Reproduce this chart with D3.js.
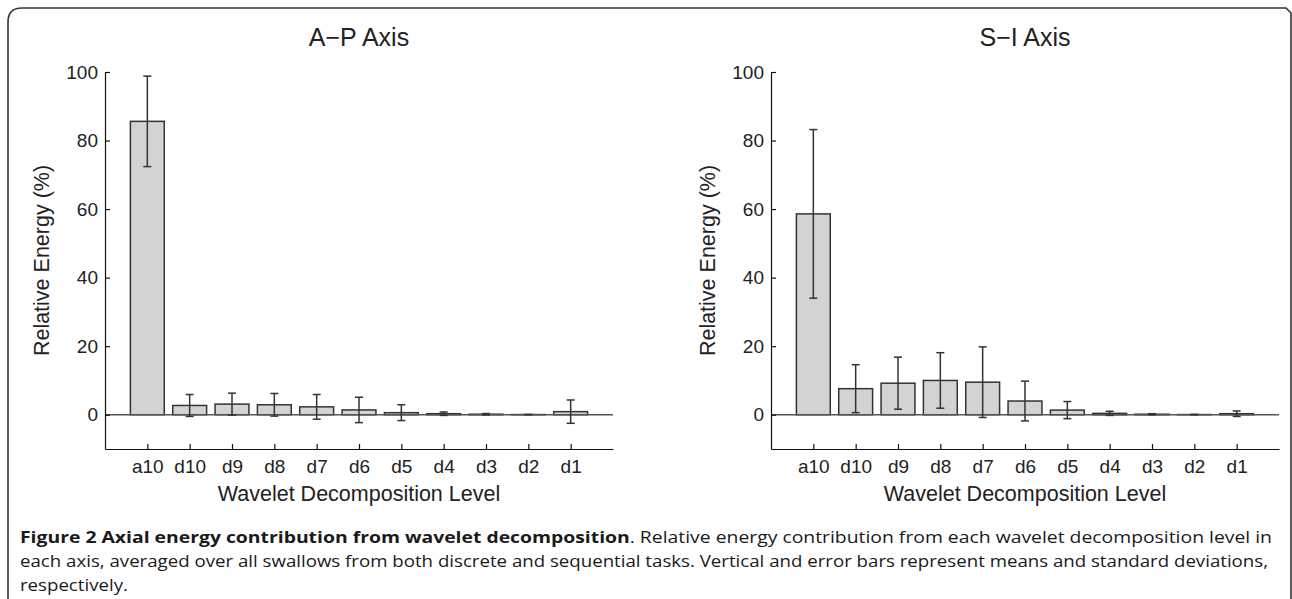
<!DOCTYPE html>
<html>
<head>
<meta charset="utf-8">
<script src="https://cdn.jsdelivr.net/npm/d3@7/dist/d3.min.js"></script>
<style>
  html, body { margin: 0; padding: 0; background: #fff; }
  svg { display: block; }
</style>
</head>
<body>
<svg id="chart" width="1292" height="599"></svg>
<script>
// ---- data ----
const categories = ["a10", "d10", "d9", "d8", "d7", "d6", "d5", "d4", "d3", "d2", "d1"];
const apMeans = [85.6, 2.7, 3.1, 2.9, 2.3, 1.4, 0.6, 0.3, 0.15, 0.05, 0.9];
const apSD    = [13.2, 3.2, 3.2, 3.3, 3.6, 3.7, 2.3, 0.5, 0.2, 0.05, 3.4];
const siMeans = [58.6, 7.6, 9.2, 10.0, 9.5, 4.0, 1.35, 0.4, 0.15, 0.05, 0.3];
const siSD    = [24.6, 7.0, 7.6, 8.1, 10.3, 5.8, 2.5, 0.6, 0.15, 0.05, 0.8];
const yTicks = [0, 20, 40, 60, 80, 100];
const panelTitles = ["A\u2212P Axis", "S\u2212I Axis"];
const xLabel = "Wavelet Decomposition Level";
const yLabel = "Relative Energy (%)";
const captionBold = "Figure 2 Axial energy contribution from wavelet decomposition";
const captionLine1 = ". Relative energy contribution from each wavelet decomposition level in";
const captionLine2 = "each axis, averaged over all swallows from both discrete and sequential tasks. Vertical and error bars represent means and standard deviations,";
const captionLine3 = "respectively.";

const svg = d3.select("#chart");
const font = "'Liberation Sans', Arial, Helvetica, sans-serif";

// outer frame
svg.append("path")
  .attr("d", "M8,599 L8,22 Q8,8 22,8 L1286,8 L1291,13 L1291,599")
  .attr("fill", "none").attr("stroke", "#333").attr("stroke-width", 1.6);

function panel(x0, means, sds, title) {
  const x = d3.scaleLinear().domain([0, 12]).range([x0, x0 + 508]);
  const y = d3.scaleLinear().domain([-10, 100]).range([449, 72]);
  const g = svg.append("g");
  const bw = x(0.8) - x(0);

  // bars
  g.selectAll("rect.bar").data(means).enter().append("rect")
    .attr("x", (d, i) => x(i + 1) - bw / 2)
    .attr("y", d => y(d))
    .attr("width", bw)
    .attr("height", d => y(0) - y(d))
    .attr("fill", "#d3d3d5").attr("stroke", "#333").attr("stroke-width", 1.5);

  // zero baseline
  g.append("line")
    .attr("x1", x(0)).attr("x2", x(12))
    .attr("y1", y(0)).attr("y2", y(0))
    .attr("stroke", "#555").attr("stroke-width", 1.5);

  // error bars
  const cap = 4;
  const eb = g.selectAll("g.err").data(means).enter().append("g")
    .attr("stroke", "#333").attr("stroke-width", 1.5);
  eb.append("line")
    .attr("x1", (d, i) => x(i + 1)).attr("x2", (d, i) => x(i + 1))
    .attr("y1", (d, i) => y(d + sds[i])).attr("y2", (d, i) => y(d - sds[i]));
  eb.append("line")
    .attr("x1", (d, i) => x(i + 1) - cap).attr("x2", (d, i) => x(i + 1) + cap)
    .attr("y1", (d, i) => y(d + sds[i])).attr("y2", (d, i) => y(d + sds[i]));
  eb.append("line")
    .attr("x1", (d, i) => x(i + 1) - cap).attr("x2", (d, i) => x(i + 1) + cap)
    .attr("y1", (d, i) => y(d - sds[i])).attr("y2", (d, i) => y(d - sds[i]));

  // axes
  const yAxis = d3.axisLeft(y).tickValues(yTicks).tickSizeInner(-5).tickSizeOuter(0).tickPadding(7);
  const ya = g.append("g").attr("transform", `translate(${x(0)},0)`).call(yAxis);
  const xAxis = d3.axisBottom(x).tickValues(d3.range(1, 12)).tickFormat(d => categories[d - 1])
    .tickSizeInner(-5).tickSizeOuter(0).tickPadding(11);
  const xa = g.append("g").attr("transform", `translate(0,${y(-10)})`).call(xAxis);
  [ya, xa].forEach(a => {
    a.select(".domain").attr("stroke", "#111").attr("stroke-width", 1.2);
    a.selectAll(".tick line").attr("stroke", "#111").attr("stroke-width", 1.2);
    a.selectAll("text").attr("font-family", font).attr("font-size", 19).attr("fill", "#222");
  });

  // title
  g.append("text").attr("x", (x(0) + x(12)) / 2).attr("y", 46)
    .attr("text-anchor", "middle").attr("font-family", font).attr("font-size", 25).attr("fill", "#222")
    .text(title);
  // x label
  g.append("text").attr("x", (x(0) + x(12)) / 2).attr("y", 501)
    .attr("text-anchor", "middle").attr("font-family", font).attr("font-size", 21.5).attr("fill", "#222")
    .text(xLabel);
  // y label
  g.append("text").attr("transform", `translate(${x(0) - 56},${(y(-10) + y(100)) / 2}) rotate(-90)`)
    .attr("text-anchor", "middle").attr("font-family", font).attr("font-size", 21.5).attr("fill", "#222")
    .text(yLabel);
}

panel(105, apMeans, apSD, panelTitles[0]);
panel(771, siMeans, siSD, panelTitles[1]);

// caption (justified by compressing to the column width)
const capFont = "'Open Sans', 'Noto Sans', sans-serif";
const capSize = 16.5;
const t1 = svg.append("text").attr("x", 20).attr("y", 543)
  .attr("font-family", capFont).attr("font-size", capSize).attr("fill", "#1a1a1a");
t1.append("tspan").attr("font-weight", "bold").text(captionBold);
t1.append("tspan").text(captionLine1);
const t2 = svg.append("text").attr("x", 20).attr("y", 567)
  .attr("font-family", capFont).attr("font-size", capSize).attr("fill", "#1a1a1a")
  .text(captionLine2);
const t3 = svg.append("text").attr("x", 20).attr("y", 591)
  .attr("font-family", capFont).attr("font-size", capSize).attr("fill", "#1a1a1a")
  .text(captionLine3);
const w1 = t1.node().getComputedTextLength();
const w2 = t2.node().getComputedTextLength();
const w3 = t3.node().getComputedTextLength();
t1.attr("textLength", 1252).attr("lengthAdjust", "spacingAndGlyphs");
t2.attr("textLength", 1248).attr("lengthAdjust", "spacingAndGlyphs");
const k = 1248 / w2;
t3.attr("textLength", w3 * k).attr("lengthAdjust", "spacingAndGlyphs");
</script>
</body>
</html>
